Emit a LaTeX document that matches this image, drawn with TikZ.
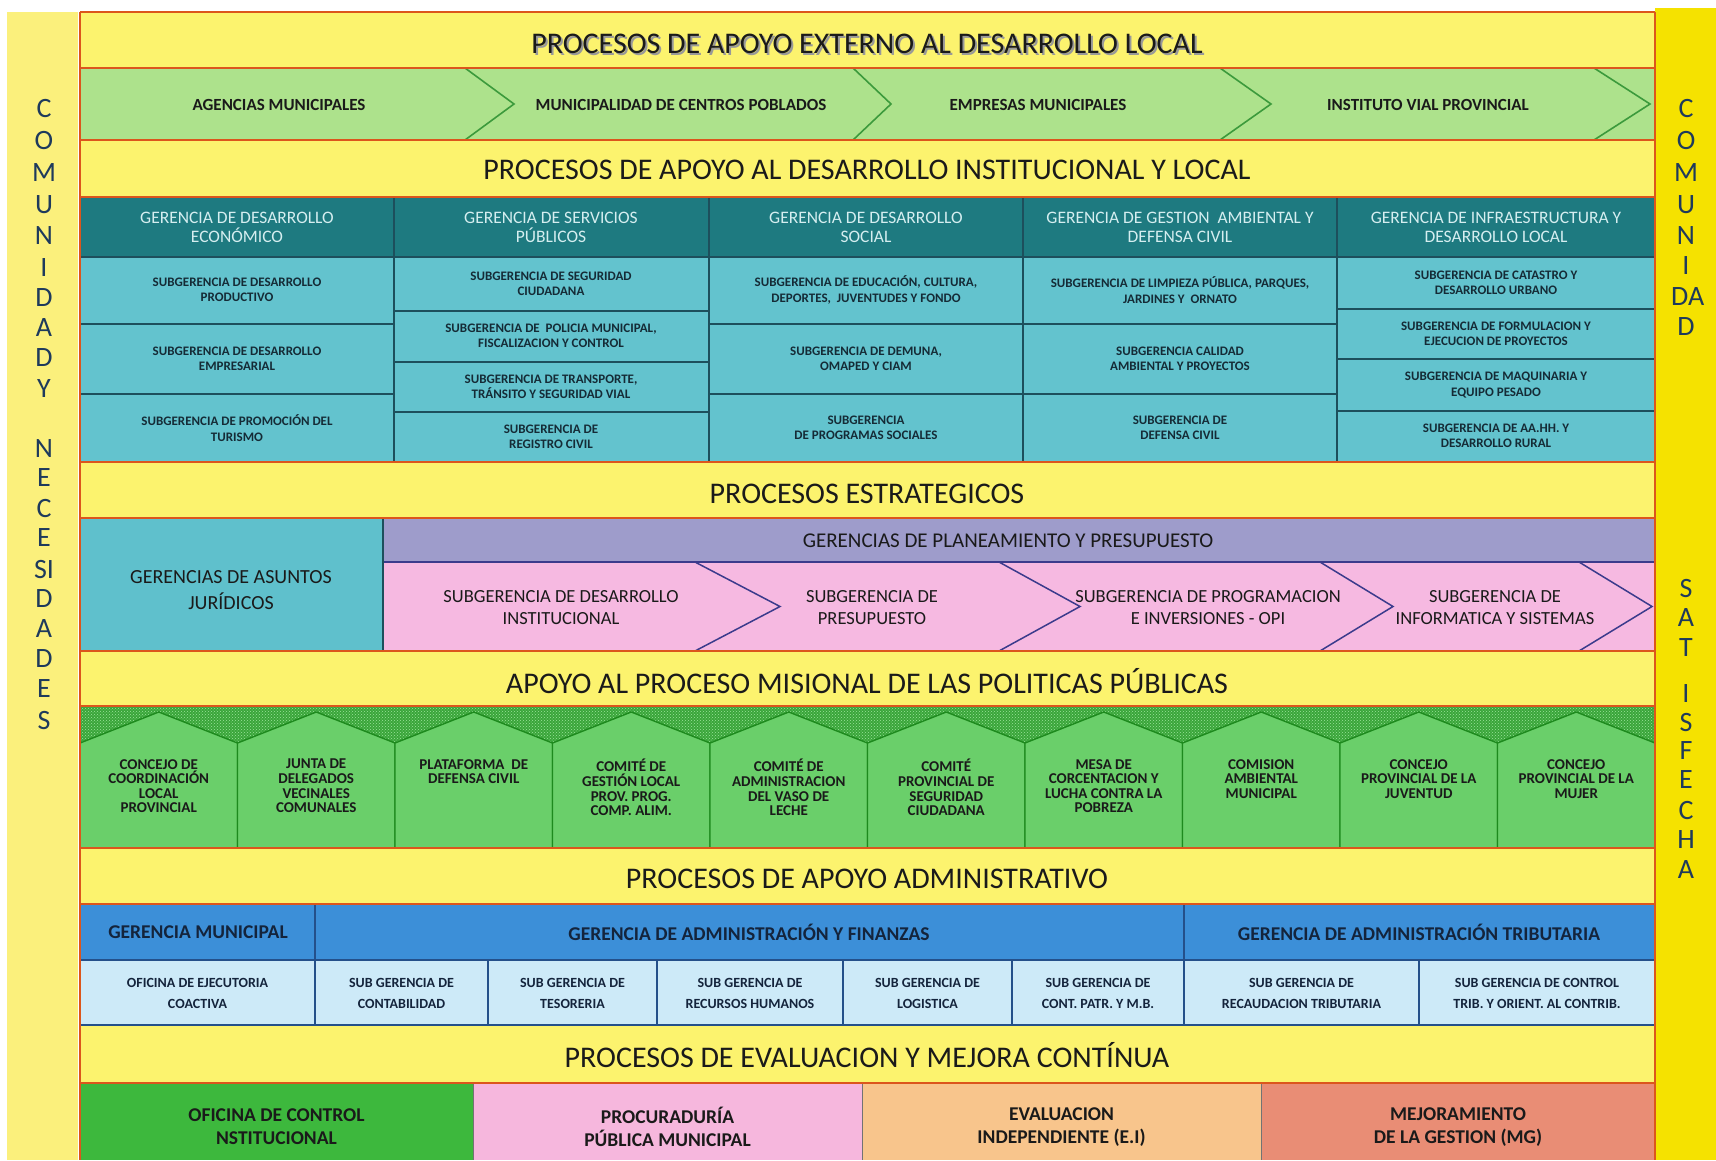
\documentclass[tikz,border=0pt]{standalone}
\usepackage{fontspec}
\setmainfont{Carlito}
\usetikzlibrary{patterns}
\definecolor{ybg}{HTML}{FCF36E}
\definecolor{sepc}{HTML}{DC561C}
\definecolor{lgreen}{HTML}{ADE28C}
\definecolor{chevline}{HTML}{3C9A3C}
\definecolor{tealdark}{HTML}{1E7A80}
\definecolor{teallight}{HTML}{63C3CE}
\definecolor{tealline}{HTML}{1D4F5C}
\definecolor{tealsubtxt}{HTML}{152B36}
\definecolor{tealtext}{HTML}{D5EEF0}
\definecolor{jurid}{HTML}{5FC0CC}
\definecolor{purp}{HTML}{9E9CCB}
\definecolor{pinkc}{HTML}{F6B9E1}
\definecolor{navy}{HTML}{3B3B8C}
\definecolor{housefill}{HTML}{6ACF6A}
\definecolor{housedark}{HTML}{3AA53A}
\definecolor{houseline}{HTML}{1E8A1E}
\definecolor{dotc}{HTML}{9BE59B}
\definecolor{bluehead}{HTML}{3C8FD8}
\definecolor{bluelight}{HTML}{CDEAF8}
\definecolor{blueline}{HTML}{24508A}
\definecolor{bluetxt}{HTML}{14243C}
\definecolor{bgreen}{HTML}{3DB83D}
\definecolor{bpink}{HTML}{F6B7DD}
\definecolor{borange}{HTML}{F8C58C}
\definecolor{bsalmon}{HTML}{E98D75}
\definecolor{leftY}{HTML}{FBF07C}
\definecolor{rightY}{HTML}{F5E200}
\definecolor{lettc}{HTML}{1E3A5C}
\definecolor{darktxt}{HTML}{1A1A1A}
\begin{document}
\begin{tikzpicture}[x=1pt,y=-1pt,
  sepline/.style={draw=sepc,line width=2.5pt},
  title/.style={font=\fontsize{30}{32}\selectfont,text=darktxt,inner sep=0pt},
  chevtxt/.style={font=\bfseries\fontsize{17}{19}\selectfont,text=darktxt,inner sep=0pt},
  chevstroke/.style={draw=chevline,line width=1.6pt},
  ghead/.style={font=\fontsize{17.5}{19}\selectfont,text=tealtext,align=center,inner sep=0pt},
  gsub/.style={font=\bfseries\fontsize{13}{15.5}\selectfont,text=tealsubtxt,align=center,inner sep=0pt},
  tline/.style={draw=tealline,line width=1.5pt},
  stxt/.style={font=\fontsize{18.5}{22}\selectfont,text=darktxt,align=center,inner sep=0pt},
  htxt/.style={font=\bfseries\fontsize{15}{14.6}\selectfont,text=darktxt,align=center,inner sep=0pt,anchor=north},
  house/.style={fill=housefill,draw=houseline,line width=1.4pt},
  ahead/.style={font=\bfseries\fontsize{19.5}{21}\selectfont,text=bluetxt,inner sep=0pt},
  asub/.style={font=\bfseries\fontsize{14}{21}\selectfont,text=bluetxt,align=center,inner sep=0pt},
  bline/.style={draw=blueline,line width=1.4pt},
  btxt/.style={font=\bfseries\fontsize{19.5}{23}\selectfont,text=darktxt,align=center,inner sep=0pt},
  lett/.style={font=\fontsize{28}{28}\selectfont,text=lettc,inner sep=0pt}
]
\useasboundingbox (0,0) rectangle (1716,1160);
\fill[white] (0,0) rectangle (1716,1160);
% side strips
\fill[leftY] (7,12) rectangle (78,1160);
\fill[rightY] (1655,8) rectangle (1716,1160);
% main frame background
\fill[ybg] (80,12) rectangle (1655,1160);

% ---- external support chevrons
\fill[lgreen] (80,68) rectangle (1655,140);
\foreach \a/\b in {465/514,853/891,1220/1271,1594/1650}
  \draw[chevstroke] (\a,68) -- (\b,104) -- (\a,140);

% ---- teal block
\fill[tealdark] (80,197) rectangle (1655,257);
\fill[teallight] (80,257) rectangle (1655,462);
\foreach \x in {394,709,1023,1337} \draw[tline] (\x,197) -- (\x,462);
\draw[tline] (80,257) -- (1655,257);
\foreach \y in {324,394} {\draw[tline] (80,\y) -- (394,\y); \draw[tline] (709,\y) -- (1337,\y);}
\foreach \y in {311,362,412} \draw[tline] (394,\y) -- (709,\y);
\foreach \y in {309,359,411} \draw[tline] (1337,\y) -- (1655,\y);

% ---- strategic block
\fill[jurid] (80,518) rectangle (383,651);
\fill[purp] (383,518) rectangle (1655,562);
\fill[pinkc] (383,562) rectangle (1655,651);
\draw[draw=navy,line width=1.8pt] (383,562) -- (1655,562);
\draw[draw=tealline,line width=1.2pt] (383,518) -- (383,651);
\foreach \a/\b in {695/780,999/1080,1320/1393,1579/1652}
  \draw[draw=navy,line width=1.5pt] (\a,562) -- (\b,606.5) -- (\a,651);

% ---- houses block
\fill[housedark] (80,706) rectangle (1655,848);
\fill[pattern=crosshatch dots,pattern color=dotc] (80,706) rectangle (1655,848);
\foreach \i in {0,...,9}{
  \pgfmathsetmacro{\xa}{80+157.5*\i}
  \pgfmathsetmacro{\xb}{\xa+157.5}
  \pgfmathsetmacro{\xm}{\xa+78.75}
  \path[house] (\xa,848) -- (\xa,743) -- (\xm,712) -- (\xb,743) -- (\xb,848) -- cycle;
}

% ---- admin block
\fill[bluehead] (80,904) rectangle (1655,960);
\fill[bluelight] (80,960) rectangle (1655,1025);
\draw[bline] (80,960) -- (1655,960);
\foreach \x in {315,1184} \draw[bline] (\x,904) -- (\x,1025);
\foreach \x in {488,657,843,1012,1419} \draw[bline] (\x,960) -- (\x,1025);
\draw[draw=blueline,line width=2pt] (80,1025) -- (1655,1025);

% ---- bottom block
\fill[bgreen] (80,1083) rectangle (473,1160);
\fill[bpink] (473,1083) rectangle (862,1160);
\fill[borange] (862,1083) rectangle (1261,1160);
\fill[bsalmon] (1261,1083) rectangle (1655,1160);
\foreach \x in {473,862,1261} \draw[draw=black!55,line width=1pt] (\x,1083) -- (\x,1160);

% ---- separators
\foreach \y in {12,68,140,197,462,518,651,706,848,904,1083}
  \draw[sepline] (80,\y) -- (1655,\y);
\draw[sepline] (80,12) -- (80,1160);
\draw[sepline] (1655,12) -- (1655,1160);

% ---- titles
\node[title,text=black!40] (t1s) at (869,45.5) {PROCESOS DE APOYO EXTERNO AL DESARROLLO LOCAL};
\node[title] (t1) at (867,44) {PROCESOS DE APOYO EXTERNO AL DESARROLLO LOCAL};
\node[title] (t2) at (867,170) {PROCESOS DE APOYO AL DESARROLLO INSTITUCIONAL Y LOCAL};
\node[title] (t3) at (867,494) {PROCESOS ESTRATEGICOS};
\node[title] (t4) at (867,681) {APOYO AL PROCESO MISIONAL DE LAS POLITICAS PÚBLICAS};
\node[title] (t5) at (867,879) {PROCESOS DE APOYO ADMINISTRATIVO};
\node[title] (t6) at (867,1055) {PROCESOS DE EVALUACION Y MEJORA CONTÍNUA};

% ---- chevron labels
\node[chevtxt] (c1) at (279,105) {AGENCIAS MUNICIPALES};
\node[chevtxt] (c2) at (681,105) {MUNICIPALIDAD DE CENTROS POBLADOS};
\node[chevtxt] (c3) at (1038,105) {EMPRESAS MUNICIPALES};
\node[chevtxt] (c4) at (1428,105) {INSTITUTO VIAL PROVINCIAL};

% ---- teal headers
\node[ghead] (g1) at (237,227) {GERENCIA DE DESARROLLO\\ECONÓMICO};
\node[ghead] (g2) at (551,227) {GERENCIA DE SERVICIOS\\PÚBLICOS};
\node[ghead] (g3) at (866,227) {GERENCIA DE DESARROLLO\\SOCIAL};
\node[ghead] (g4) at (1180,227) {GERENCIA DE GESTION \ AMBIENTAL Y\\DEFENSA CIVIL};
\node[ghead] (g5) at (1496,227) {GERENCIA DE INFRAESTRUCTURA Y\\DESARROLLO LOCAL};
% teal sub cells
\node[gsub] (s11) at (237,290) {SUBGERENCIA DE DESARROLLO\\PRODUCTIVO};
\node[gsub] (s12) at (237,359) {SUBGERENCIA DE DESARROLLO\\EMPRESARIAL};
\node[gsub] (s13) at (237,428) {SUBGERENCIA DE PROMOCIÓN DEL\\TURISMO};
\node[gsub] (s21) at (551,284) {SUBGERENCIA DE SEGURIDAD\\CIUDADANA};
\node[gsub] (s22) at (551,336) {SUBGERENCIA DE \ POLICIA MUNICIPAL,\\FISCALIZACION Y CONTROL};
\node[gsub] (s23) at (551,387) {SUBGERENCIA DE TRANSPORTE,\\TRÁNSITO Y SEGURIDAD VIAL};
\node[gsub] (s24) at (551,437) {SUBGERENCIA DE\\REGISTRO CIVIL};
\node[gsub] (s31) at (866,290) {SUBGERENCIA DE EDUCACIÓN, CULTURA,\\DEPORTES, \ JUVENTUDES Y FONDO};
\node[gsub] (s32) at (866,359) {SUBGERENCIA DE DEMUNA,\\OMAPED Y CIAM};
\node[gsub] (s33) at (866,428) {SUBGERENCIA\\DE PROGRAMAS SOCIALES};
\node[gsub] (s41) at (1180,290) {SUBGERENCIA DE LIMPIEZA PÚBLICA, PARQUES,\\JARDINES Y \ ORNATO};
\node[gsub] (s42) at (1180,359) {SUBGERENCIA CALIDAD\\AMBIENTAL Y PROYECTOS};
\node[gsub] (s43) at (1180,428) {SUBGERENCIA DE\\DEFENSA CIVIL};
\node[gsub] (s51) at (1496,283) {SUBGERENCIA DE CATASTRO Y\\DESARROLLO URBANO};
\node[gsub] (s52) at (1496,334) {SUBGERENCIA DE FORMULACION Y\\EJECUCION DE PROYECTOS};
\node[gsub] (s53) at (1496,385) {SUBGERENCIA DE MAQUINARIA Y\\EQUIPO PESADO};
\node[gsub] (s54) at (1496,436) {SUBGERENCIA DE AA.HH. Y\\DESARROLLO RURAL};

% ---- strategic labels
\node[stxt,font=\fontsize{20}{26}\selectfont] (j1) at (231,590) {GERENCIAS DE ASUNTOS\\JURÍDICOS};
\node[stxt,font=\fontsize{21}{23}\selectfont] (pp) at (1008,541) {GERENCIAS DE PLANEAMIENTO Y PRESUPUESTO};
\node[stxt] (p1) at (561,608) {SUBGERENCIA DE DESARROLLO\\INSTITUCIONAL};
\node[stxt] (p2) at (872,608) {SUBGERENCIA DE\\PRESUPUESTO};
\node[stxt] (p3) at (1208,608) {SUBGERENCIA DE PROGRAMACION\\E INVERSIONES - OPI};
\node[stxt] (p4) at (1495,608) {SUBGERENCIA DE\\INFORMATICA Y SISTEMAS};

% ---- house labels
\node[htxt] (h1) at (158.75,759) {CONCEJO DE\\COORDINACIÓN\\LOCAL\\PROVINCIAL};
\node[htxt] (h2) at (316.25,759) {JUNTA DE\\DELEGADOS\\VECINALES\\COMUNALES};
\node[htxt] (h3) at (473.75,759) {PLATAFORMA \ DE\\DEFENSA CIVIL};
\node[htxt] (h4) at (631.25,759) {COMITÉ DE\\GESTIÓN LOCAL\\PROV. PROG.\\COMP. ALIM.};
\node[htxt] (h5) at (788.75,759) {COMITÉ DE\\ADMINISTRACION\\DEL VASO DE\\LECHE};
\node[htxt] (h6) at (946.25,759) {COMITÉ\\PROVINCIAL DE\\SEGURIDAD\\CIUDADANA};
\node[htxt] (h7) at (1103.75,759) {MESA DE\\CORCENTACION Y\\LUCHA CONTRA LA\\POBREZA};
\node[htxt] (h8) at (1261.25,759) {COMISION\\AMBIENTAL\\MUNICIPAL};
\node[htxt] (h9) at (1418.75,759) {CONCEJO\\PROVINCIAL DE LA\\JUVENTUD};
\node[htxt] (h10) at (1576.25,759) {CONCEJO\\PROVINCIAL DE LA\\MUJER};

% ---- admin labels
\node[ahead] (a1) at (198,932) {GERENCIA MUNICIPAL};
\node[ahead] (a2) at (749,932) {GERENCIA DE ADMINISTRACIÓN Y FINANZAS};
\node[ahead] (a3) at (1419,932) {GERENCIA DE ADMINISTRACIÓN TRIBUTARIA};
\node[asub] (b1) at (197.5,993) {OFICINA DE EJECUTORIA\\COACTIVA};
\node[asub] (b2) at (401.5,993) {SUB GERENCIA DE\\CONTABILIDAD};
\node[asub] (b3) at (572.5,993) {SUB GERENCIA DE\\TESORERIA};
\node[asub] (b4) at (750,993) {SUB GERENCIA DE\\RECURSOS HUMANOS};
\node[asub] (b5) at (927.5,993) {SUB GERENCIA DE\\LOGISTICA};
\node[asub] (b6) at (1098,993) {SUB GERENCIA DE\\CONT. PATR. Y M.B.};
\node[asub] (b7) at (1301.5,993) {SUB GERENCIA DE\\RECAUDACION TRIBUTARIA};
\node[asub] (b8) at (1537,993) {SUB GERENCIA DE CONTROL\\TRIB. Y ORIENT. AL CONTRIB.};

% ---- bottom labels
\node[btxt] (e1) at (276.5,1127) {OFICINA DE CONTROL\\NSTITUCIONAL};
\node[btxt] (e2) at (667.5,1127) {PROCURADURÍA\\PÚBLICA MUNICIPAL};
\node[btxt] (e3) at (1061.5,1127) {EVALUACION\\INDEPENDIENTE (E.I)};
\node[btxt] (e4) at (1458,1127) {MEJORAMIENTO\\DE LA GESTION (MG)};

% ---- side letters
\foreach \t/\y [count=\k] in {C/109,O/141,M/173,U/205,N/236,I/268,D/298,A/328,D/358,Y/389,N/449,E/478,C/509,E/538,SI/569,D/599,A/629,D/659,E/689,S/720}
  \node[lett] (L\k) at (44,\y) {\t};
\foreach \t/\y [count=\k] in {C/109,O/141,M/173,U/205,N/236,I/266,D/327,S/588,A/618,T/648,I/694,S/722,F/751,E/780,C/810,H/840,A/870}
  \node[lett] (R\k) at (1686,\y) {\t};
\node[lett,anchor=west] (Rda) at (1671,297) {DA};
\end{tikzpicture}
\end{document}
